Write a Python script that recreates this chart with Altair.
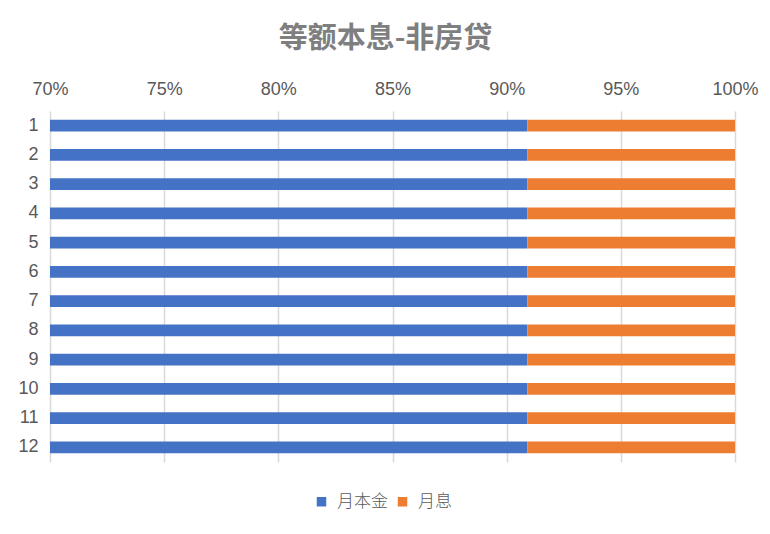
import altair as alt
import pandas as pd

months = [str(i) for i in range(1, 13)]
principal_share = [0.909] * 12
interest_share = [0.091] * 12
series_names = ["月本金", "月息"]
colors = ["#4472C4", "#ED7D31"]
tick_values = [0.70, 0.75, 0.80, 0.85, 0.90, 0.95, 1.00]

rows = []
for m, p, i in zip(months, principal_share, interest_share):
    rows.append({"month": m, "series": series_names[0], "value": p, "ord": 0})
    rows.append({"month": m, "series": series_names[1], "value": i, "ord": 1})
df = pd.DataFrame(rows)

label_font = "Liberation Sans"
cjk_font = "Noto Sans CJK SC"

chart = alt.Chart(df).mark_bar(clip=True).encode(
    y=alt.Y("month:N", sort=months, title=None,
            scale=alt.Scale(paddingInner=0.59, paddingOuter=0.295),
            axis=alt.Axis(labelFont=label_font, labelFontSize=18, labelColor="#595959",
                          ticks=False, domain=False, labelPadding=12, grid=False)),
    x=alt.X("value:Q", stack="zero", title=None,
            scale=alt.Scale(domain=[0.7, 1.0], nice=False, zero=False),
            axis=alt.Axis(orient="top", values=tick_values, format=".0%",
                          labelFont=label_font, labelFontSize=18, labelColor="#595959",
                          labelFlush=False, labelBound=False, labelOverlap=False,
                          ticks=False, domain=False, labelPadding=13,
                          grid=True, gridColor="#D9D9D9", gridWidth=1.5)),
    color=alt.Color("series:N", sort=series_names,
                    scale=alt.Scale(domain=series_names, range=colors),
                    legend=alt.Legend(title=None, orient="none", direction="horizontal",
                                      legendX=263, legendY=382,
                                      symbolType="square", symbolSize=90,
                                      symbolStrokeWidth=0, symbolOpacity=1,
                                      labelFont=cjk_font, labelFontSize=17,
                                      labelFontWeight=300,
                                      labelColor="#595959", columnPadding=6,
                                      labelOffset=7)),
    order=alt.Order("ord:Q"),
).properties(
    width=685,
    height=351,
    title=alt.TitleParams("等额本息-非房贷", font=cjk_font, fontSize=29,
                          fontWeight="bold", color="#7F7F7F", anchor="middle",
                          offset=26, dx=-7),
    autosize=alt.AutoSizeParams(type="none"),
    padding={"left": 42, "top": 103, "right": 27, "bottom": 60},
).configure(background="white").configure_view(stroke=None)

chart.save("out.html", embed_options={"renderer": "svg", "actions": False})
